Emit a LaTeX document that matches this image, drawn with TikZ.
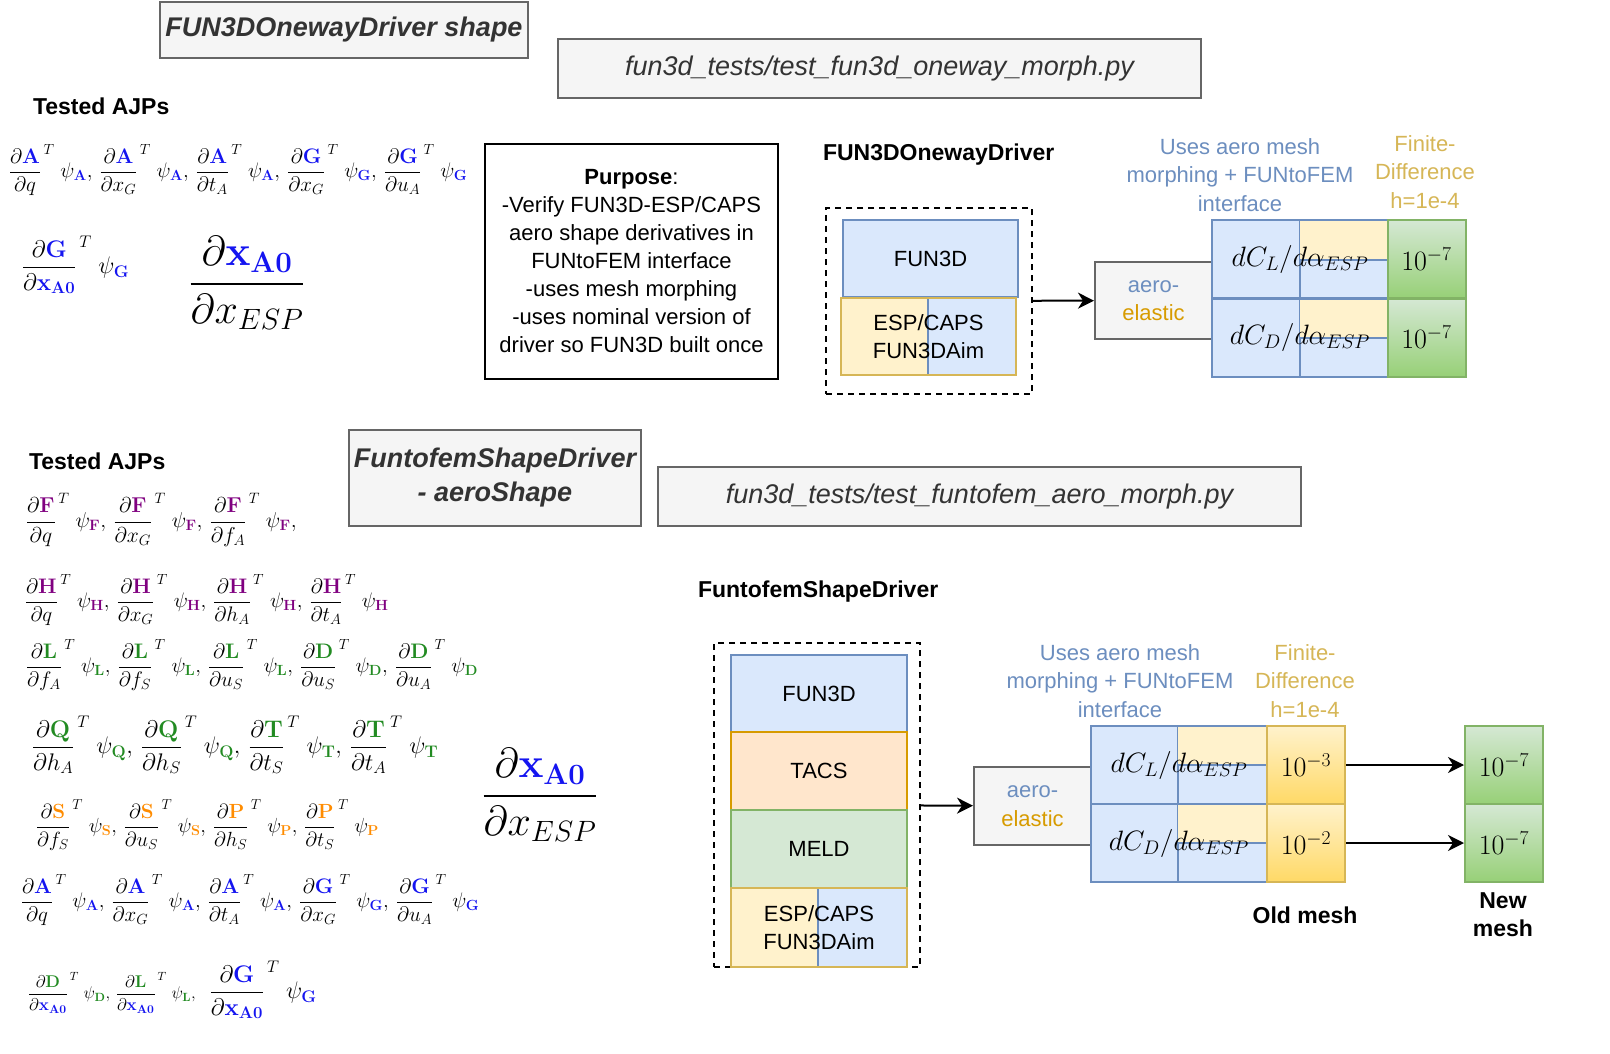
\RequirePackage{fix-cm}
\documentclass[tikz,border=0pt]{standalone}
\usepackage{amsmath, amssymb}
\usepackage[no-math]{fontspec}
\setmainfont{Liberation Sans}
\usepackage{tikz}
\usetikzlibrary{arrows.meta, shapes, backgrounds}

\definecolor{boxGray}{HTML}{666666}
\definecolor{titleFill}{HTML}{F5F5F5}
\definecolor{titleText}{HTML}{333333}
\definecolor{blueFill}{HTML}{DAE8FC}
\definecolor{blueStroke}{HTML}{6C8EBF}
\definecolor{yellowFill}{HTML}{FFF2CC}
\definecolor{yellowStroke}{HTML}{D6B656}
\definecolor{yellowBot}{HTML}{FFD966}
\definecolor{orangeFill}{HTML}{FFE6CC}
\definecolor{orangeStroke}{HTML}{D79B00}
\definecolor{greenFill}{HTML}{D5E8D4}
\definecolor{greenStroke}{HTML}{82B366}
\definecolor{greenBot}{HTML}{97D077}
\definecolor{ajpBlue}{RGB}{20,20,240}
\definecolor{ajpPurple}{RGB}{128,0,128}
\definecolor{ajpGreen}{RGB}{34,139,34}
\definecolor{ajpOrange}{RGB}{255,140,0}

\newcommand{\ajpterm}[3]{\dfrac{\partial\textcolor{#1}{\mathbf{#2}}}{\partial #3}^{\,T}\;\psi_{\textcolor{#1}{\mathbf{#2}}}}
\newcommand{\xAo}{\textcolor{ajpBlue}{\mathbf{x}_{\mathbf{A0}}}}

\begin{document}
\begin{tikzpicture}[x=1pt, y=-1pt, line width=2pt,
    >={Stealth[length=16pt, width=16pt, inset=5pt]},
    titlebox/.style={draw=boxGray, fill=titleFill, text=titleText, inner sep=0pt,
                     font=\bfseries\itshape\fontsize{27}{34}\selectfont, align=center},
    filebox/.style={draw=boxGray, fill=titleFill, text=titleText, inner sep=0pt,
                    font=\itshape\fontsize{27}{32}\selectfont},
    heading/.style={anchor=west, inner sep=0pt, font=\bfseries\fontsize{23}{28}\selectfont},
    ajp/.style={anchor=west, inner sep=0pt, font=\fontsize{21}{25}\selectfont},
    cell/.style={minimum width=#1, minimum height=78, inner sep=0pt,
                 font=\fontsize{28}{30}\selectfont},
    cell/.default=78,
    plain/.style={inner sep=0pt, align=center, font=\fontsize{22}{28.5}\selectfont}]

    \path[use as bounding box, fill=white] (0,0) rectangle (1610,1054);

    % ---------- FUN3DOnewayDriver shape ----------
    \node[titlebox, minimum width=368, minimum height=56] (titleA) at (344,30) {FUN3DOnewayDriver shape};
    \node[filebox, minimum width=643, minimum height=59] (fileA) at (879.5,68.5) {fun3d\_tests/test\_fun3d\_oneway\_morph.py};

    \node[heading] (ajpA) at (32,106) {Tested AJPs};
    \begin{scope}[every node/.style={ajp}]
        \node (rowA1) at (8,170) {$\ajpterm{ajpBlue}{A}{q},\,\ajpterm{ajpBlue}{A}{x_G},\,\ajpterm{ajpBlue}{A}{t_A},\,\ajpterm{ajpBlue}{G}{x_G},\,\ajpterm{ajpBlue}{G}{u_A}$};
        \node[font=\fontsize{24}{28}\selectfont] (rowA2) at (21,265) {$\ajpterm{ajpBlue}{G}{\xAo}$};
    \end{scope}
    \node[inner sep=0pt, font=\fontsize{42}{46}\selectfont] (dxA) at (247,283) {$\dfrac{\partial\xAo}{\partial x_{ESP}}$};

    \node[draw=black, fill=white, minimum width=293, minimum height=235, plain, font=\fontsize{22}{28}\selectfont] (purpose) at (631.5,261.5)
        {\textbf{Purpose}:\\-Verify FUN3D-ESP/CAPS\\aero shape derivatives in\\FUNtoFEM interface\\-uses mesh morphing\\-uses nominal version of\\driver so FUN3D built once};

    \node[heading] (drvTextA) at (822,155) {FUN3DOnewayDriver};
    \node[draw=black, dashed, dash pattern=on 6pt off 5pt, minimum width=206, minimum height=186] (drvA) at (929,301) {};
    \node[draw=blueStroke, fill=blueFill, minimum width=175, minimum height=77, plain] (fun3dA) at (930.5,258.5) {FUN3D};
    \fill[yellowFill] (841,298) rectangle (928,375);
    \filldraw[fill=blueFill, draw=blueStroke] (928,298) rectangle (1016,375);
    \node[draw=yellowStroke, line width=2.5pt, minimum width=175, minimum height=77, plain] (espA) at (928.5,336.5) {ESP/CAPS\\FUN3DAim};

    \node[draw=boxGray, fill=titleFill, minimum width=117, minimum height=77, plain] (aeroA) at (1153.5,300.5)
        {\textcolor{blueStroke}{aero-}\\\textcolor{orangeStroke}{elastic}};

    % derivative cells
    \filldraw[fill=blueFill, draw=blueStroke] (1212,220) rectangle (1300,377);
    \fill[yellowFill] (1300,220) rectangle (1388,260);
    \filldraw[fill=blueFill, draw=blueStroke] (1300,260) rectangle (1388,298);
    \fill[yellowFill] (1300,298) rectangle (1388,338);
    \filldraw[fill=blueFill, draw=blueStroke] (1300,338) rectangle (1388,377);
    \node[cell=176, draw=blueStroke] (clA) at (1300,259) {$dC_L/d\alpha_{ESP}$};
    \node[cell=176, draw=blueStroke] (cdA) at (1300,337.5) {$dC_D/d\alpha_{ESP}$};

    \begin{scope}[every node/.style={cell, draw=greenStroke, top color=greenFill, bottom color=greenBot}]
        \node (fdA1) at (1426.5,259) {$10^{-7}$};
        \node (fdA2) at (1426.5,337.5) {$10^{-7}$};
    \end{scope}

    \node[plain, text=blueStroke] (usesA) at (1240,175) {Uses aero mesh\\morphing + FUNtoFEM\\interface};
    \node[plain, text=yellowStroke] (finA) at (1425,172) {Finite-\\Difference\\h=1e-4};

    \path[->] (drvA) edge (aeroA);

    % ---------- FuntofemShapeDriver - aeroShape ----------
    \node[heading] (ajpB) at (28,461) {Tested AJPs};
    \node[titlebox, minimum width=292, minimum height=96] (titleB) at (495,478) {FuntofemShapeDriver\\- aeroShape};
    \node[filebox, minimum width=643, minimum height=59] (fileB) at (979.5,496.5) {fun3d\_tests/test\_funtofem\_aero\_morph.py};

    \begin{scope}[every node/.style={ajp}]
        \node[font=\fontsize{21.5}{25}\selectfont] (rowF) at (25,520) {$\ajpterm{ajpPurple}{F}{q},\,\ajpterm{ajpPurple}{F}{x_G},\,\ajpterm{ajpPurple}{F}{f_A},$};
        \node (rowH) at (24,600) {$\ajpterm{ajpPurple}{H}{q},\,\ajpterm{ajpPurple}{H}{x_G},\,\ajpterm{ajpPurple}{H}{h_A},\,\ajpterm{ajpPurple}{H}{t_A}$};
        \node (rowLD) at (25,665) {$\ajpterm{ajpGreen}{L}{f_A},\,\ajpterm{ajpGreen}{L}{f_S},\,\ajpterm{ajpGreen}{L}{u_S},\,\ajpterm{ajpGreen}{D}{u_S},\,\ajpterm{ajpGreen}{D}{u_A}$};
        \node[font=\fontsize{24}{28}\selectfont] (rowQT) at (31,745) {$\ajpterm{ajpGreen}{Q}{h_A},\,\ajpterm{ajpGreen}{Q}{h_S},\,\ajpterm{ajpGreen}{T}{t_S},\,\ajpterm{ajpGreen}{T}{t_A}$};
        \node[font=\fontsize{20.5}{24}\selectfont] (rowSP) at (35,825) {$\ajpterm{ajpOrange}{S}{f_S},\,\ajpterm{ajpOrange}{S}{u_S},\,\ajpterm{ajpOrange}{P}{h_S},\,\ajpterm{ajpOrange}{P}{t_S}$};
        \node (rowAG) at (20,900) {$\ajpterm{ajpBlue}{A}{q},\,\ajpterm{ajpBlue}{A}{x_G},\,\ajpterm{ajpBlue}{A}{t_A},\,\ajpterm{ajpBlue}{G}{x_G},\,\ajpterm{ajpBlue}{G}{u_A}$};
        \node (rowX) at (27,990) {{\fontsize{17}{20}\selectfont$\ajpterm{ajpGreen}{D}{\xAo},\,\ajpterm{ajpGreen}{L}{\xAo},$}\hspace{14pt}{\fontsize{24}{28}\selectfont$\ajpterm{ajpBlue}{G}{\xAo}$}};
    \end{scope}
    \node[inner sep=0pt, font=\fontsize{42}{46}\selectfont] (dxB) at (540,795) {$\dfrac{\partial\xAo}{\partial x_{ESP}}$};

    \node[heading] (drvTextB) at (697,592) {FuntofemShapeDriver};
    \node[draw=black, dashed, dash pattern=on 6pt off 5pt, minimum width=206, minimum height=324] (drvB) at (817,805) {};
    \node[draw=blueStroke, fill=blueFill, minimum width=176, minimum height=77, plain] (fun3dB) at (819,693.5) {FUN3D};
    \node[draw=orangeStroke, fill=orangeFill, line width=2.5pt, minimum width=176, minimum height=78, plain] (tacsB) at (819,771) {TACS};
    \node[draw=greenStroke, fill=greenFill, minimum width=176, minimum height=78, plain] (meldB) at (819,849) {MELD};
    \fill[yellowFill] (731,888) rectangle (818,967);
    \filldraw[fill=blueFill, draw=blueStroke] (818,888) rectangle (907,967);
    \node[draw=yellowStroke, line width=2.5pt, minimum width=176, minimum height=79, plain] (espB) at (819,927.5) {ESP/CAPS\\FUN3DAim};

    \node[draw=boxGray, fill=titleFill, minimum width=117, minimum height=78, plain] (aeroB) at (1032.5,806)
        {\textcolor{blueStroke}{aero-}\\\textcolor{orangeStroke}{elastic}};

    % derivative cells
    \filldraw[fill=blueFill, draw=blueStroke] (1091,726) rectangle (1178,882);
    \fill[yellowFill] (1178,726) rectangle (1267,765);
    \filldraw[fill=blueFill, draw=blueStroke] (1178,765) rectangle (1267,804);
    \fill[yellowFill] (1178,804) rectangle (1267,843);
    \filldraw[fill=blueFill, draw=blueStroke] (1178,843) rectangle (1267,882);
    \node[cell=176, draw=blueStroke] (clB) at (1179,765) {$dC_L/d\alpha_{ESP}$};
    \node[cell=176, draw=blueStroke] (cdB) at (1179,843) {$dC_D/d\alpha_{ESP}$};

    \begin{scope}[every node/.style={cell, draw=yellowStroke, top color=yellowFill, bottom color=yellowBot}]
        \node (oldB1) at (1306,765) {$10^{-3}$};
        \node (oldB2) at (1306,843) {$10^{-2}$};
    \end{scope}
    \begin{scope}[every node/.style={cell, draw=greenStroke, top color=greenFill, bottom color=greenBot}]
        \node (newB1) at (1504,765) {$10^{-7}$};
        \node (newB2) at (1504,843) {$10^{-7}$};
    \end{scope}

    \node[plain, text=blueStroke] (usesB) at (1120,681) {Uses aero mesh\\morphing + FUNtoFEM\\interface};
    \node[plain, text=yellowStroke] (finB) at (1305,681) {Finite-\\Difference\\h=1e-4};
    \node[plain, font=\bfseries\fontsize{23}{28}\selectfont] (oldText) at (1305,915) {Old mesh};
    \node[plain, font=\bfseries\fontsize{23}{28}\selectfont] (newText) at (1503,915) {New\\mesh};

    \path[->] (drvB) edge (aeroB);
    \path[->] (oldB1) edge (newB1);
    \path[->] (oldB2) edge (newB2);

\end{tikzpicture}
\end{document}
